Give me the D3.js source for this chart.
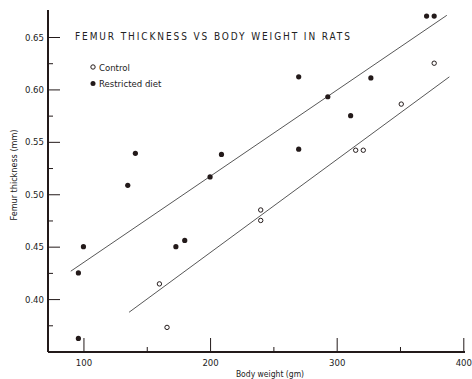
<!DOCTYPE html>
<html>
<head>
<meta charset="utf-8">
<script src="https://cdn.jsdelivr.net/npm/d3@7"></script>
<style>
  body { margin: 0; background: #fff; }
  svg text { font-family: "DejaVu Sans Condensed", "DejaVu Sans", sans-serif; fill: #222; }
</style>
</head>
<body>
<div id="chart"></div>
<script>
// Control rats (open circles)
const controlWeight = [166, 160, 240, 240, 315, 321, 351, 377];
const controlThick  = [0.373, 0.4145, 0.475, 0.485, 0.542, 0.542, 0.586, 0.625];

// Restricted diet rats (filled dots)
const restrictedWeight = [96, 96, 100, 135, 141, 173, 180, 200, 209, 270, 270, 293, 311, 327, 371, 377];
const restrictedThick  = [0.3625, 0.425, 0.45, 0.5085, 0.539, 0.45, 0.456, 0.5165, 0.538, 0.543, 0.612, 0.593, 0.575, 0.611, 0.670, 0.670];

// fitted lines: [start, end]
const restrictedFitWeight = [90, 387];
const restrictedFitThick  = [0.4266, 0.6707];
const controlFitWeight = [136, 389];
const controlFitThick  = [0.3874, 0.612];

const xMajorTicks = [100, 200, 300, 400];
const xMinorTicks = [150, 250, 350];
const yMajorTicks = [0.40, 0.45, 0.50, 0.55, 0.60, 0.65];
const yMinorTicks = [0.375, 0.425, 0.475, 0.525, 0.575, 0.625];

const width = 472, height = 379;
const ink = '#231a1a';

const svg = d3.select('#chart').append('svg')
  .attr('width', width)
  .attr('height', height);

const x = d3.scaleLinear().domain([72, 400]).range([48, 463.3]);
const y = d3.scaleLinear().domain([0.35, 0.65]).range([351.5, 37]);

// axes lines
svg.append('line')
  .attr('x1', 48).attr('x2', 48)
  .attr('y1', 10).attr('y2', 352)
  .attr('stroke', ink).attr('stroke-width', 2);
svg.append('line')
  .attr('x1', 48).attr('x2', 465)
  .attr('y1', 352).attr('y2', 352)
  .attr('stroke', ink).attr('stroke-width', 2);

// y axis ticks (pointing inward)
const yAxis = svg.append('g')
  .attr('transform', 'translate(48,0)')
  .call(d3.axisLeft(y).tickValues(yMajorTicks).tickSize(-12).tickPadding(4)
    .tickFormat(d3.format('.2f')));
svg.append('g')
  .attr('transform', 'translate(48,0)')
  .call(d3.axisLeft(y).tickValues(yMinorTicks).tickSize(-5).tickFormat(''));

// x axis ticks (pointing up)
const xAxis = svg.append('g')
  .attr('transform', 'translate(0,352)')
  .call(d3.axisBottom(x).tickValues(xMajorTicks).tickSize(-14).tickPadding(7));
svg.append('g')
  .attr('transform', 'translate(0,352)')
  .call(d3.axisBottom(x).tickValues(xMinorTicks).tickSize(-5).tickFormat(''));

svg.selectAll('.domain').remove();
svg.selectAll('.tick line').attr('stroke', ink).attr('stroke-width', 1);
svg.selectAll('.tick text')
  .style('font-family', '"DejaVu Sans Condensed", sans-serif')
  .style('font-size', '9.5px')
  .attr('fill', '#222');

// axis titles
svg.append('text')
  .attr('x', 270).attr('y', 377)
  .attr('text-anchor', 'middle')
  .style('font-size', '8.5px')
  .text('Body weight (gm)');

svg.append('text')
  .attr('transform', 'translate(17,175) rotate(-90)')
  .attr('text-anchor', 'middle')
  .style('font-size', '9px')
  .text('Femur thickness (mm)');

// title
svg.append('text')
  .attr('x', 75).attr('y', 40)
  .style('font-size', '10px')
  .style('letter-spacing', '1.9px')
  .text('FEMUR THICKNESS VS BODY WEIGHT IN RATS');

// legend
const legend = svg.append('g').attr('transform', 'translate(93,67)');
legend.append('circle').attr('cx', 0).attr('cy', 0).attr('r', 2.2)
  .attr('fill', '#fff').attr('stroke', ink).attr('stroke-width', 1);
legend.append('text').attr('x', 6).attr('y', 3.5).style('font-size', '9.5px').text('Control');
legend.append('circle').attr('cx', 0).attr('cy', 16.5).attr('r', 2.5).attr('fill', ink);
legend.append('text').attr('x', 6).attr('y', 20).style('font-size', '9.5px').text('Restricted diet');

// fitted lines
const fitLine = d3.line().x(d => x(d[0])).y(d => y(d[1]));
svg.append('path')
  .attr('d', fitLine(d3.zip(restrictedFitWeight, restrictedFitThick)))
  .attr('stroke', '#444').attr('stroke-width', 0.9).attr('fill', 'none');
svg.append('path')
  .attr('d', fitLine(d3.zip(controlFitWeight, controlFitThick)))
  .attr('stroke', '#444').attr('stroke-width', 0.9).attr('fill', 'none');

// points
svg.append('g').selectAll('circle')
  .data(d3.zip(restrictedWeight, restrictedThick))
  .enter().append('circle')
  .attr('cx', d => x(d[0]))
  .attr('cy', d => y(d[1]))
  .attr('r', 2.6)
  .attr('fill', ink);

svg.append('g').selectAll('circle')
  .data(d3.zip(controlWeight, controlThick))
  .enter().append('circle')
  .attr('cx', d => x(d[0]))
  .attr('cy', d => y(d[1]))
  .attr('r', 2.2)
  .attr('fill', '#fff')
  .attr('stroke', ink)
  .attr('stroke-width', 1);
</script>
</body>
</html>
